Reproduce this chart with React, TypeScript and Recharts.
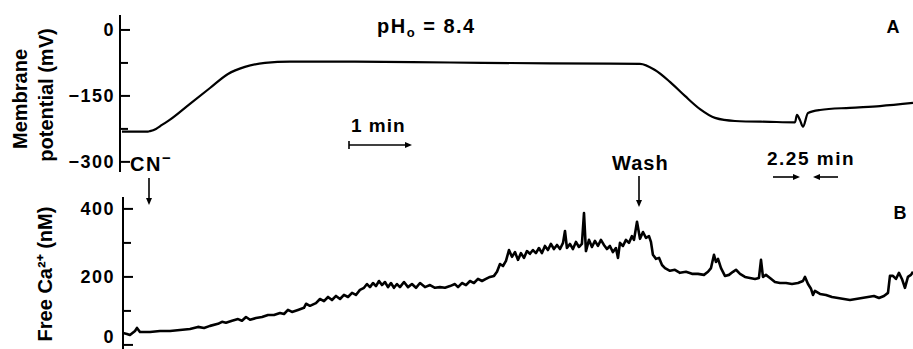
import React from "react";
import { Line, LineChart, XAxis, YAxis } from "recharts";

// time axis in seconds as plotted (2.25 min break near the end is not removed)
const membraneTime = [0, 25.2, 27.1, 32.9, 38.7, 46.5, 65.8, 85.2, 102.6, 119.0, 138.4, 162.6, 220.6, 317.4, 414.2, 501.3, 515.8, 530.3, 544.8, 559.4, 573.9, 593.2, 627.1, 651.3, 653.2, 656.1, 659.0, 663.9, 675.5, 704.5, 733.5, 765.5];
const membraneMv = [-231, -231, -230, -225, -216, -204, -168, -132, -100, -84, -75, -72, -72, -74, -76, -77, -91, -118, -150, -180, -200, -207, -209, -210, -193, -205, -220, -189, -182, -177, -173, -166];

const calciumTime = [
  1.0, 4.8, 7.7, 12.6, 14.5, 17.4, 27.1, 36.8, 46.5, 56.1, 65.8, 73.5, 79.4, 85.2, 92.9, 96.8, 100.6, 106.5, 112.3, 116.1,
  120.0, 123.9, 129.7, 135.5, 141.3, 147.1, 152.9, 156.8, 160.6, 164.5, 170.3, 176.1, 178.1, 181.9, 187.7, 191.6, 195.5, 199.4, 203.2, 207.1,
  211.0, 214.8, 218.7, 222.6, 226.4, 230.3, 234.2, 237.1, 240.0, 242.9, 245.8, 248.7, 251.6, 254.5, 257.4, 260.3, 263.2, 266.1, 269.0, 272.9,
  276.8, 280.6, 284.5, 288.4, 293.2, 298.1, 302.9, 307.7, 312.6, 317.4, 322.2, 325.2, 329.0, 332.9, 336.8, 340.6, 344.5, 348.4, 352.2, 356.1,
  360.0, 362.9, 365.8, 368.7, 371.6, 374.5, 377.4, 380.3, 383.2, 386.1, 389.0, 391.9, 394.8, 397.7, 400.6, 403.5, 406.4, 409.3, 412.2, 415.1,
  418.0, 421.0, 423.9, 426.8, 428.7, 430.6, 433.5, 436.4, 439.3, 442.2, 445.1, 447.1, 449.0, 451.9, 454.8, 457.7, 460.6, 463.5, 466.4, 469.3,
  472.2, 475.1, 478.0, 480.0, 481.9, 484.8, 487.7, 490.6, 493.5, 495.5, 498.4, 501.3, 504.2, 507.1, 510.0, 511.9, 513.8, 516.8, 519.7, 522.6,
  525.5, 530.3, 535.1, 540.0, 545.8, 551.6, 557.4, 563.2, 567.1, 570.0, 572.9, 574.8, 576.8, 579.7, 583.5, 587.4, 591.3, 594.2, 598.1, 602.9,
  607.7, 612.6, 616.4, 618.4, 620.3, 623.2, 627.1, 631.9, 636.8, 642.6, 648.4, 654.2, 659.0, 661.0, 663.9, 666.8, 668.7, 670.6, 675.5, 681.3,
  687.1, 692.9, 698.7, 704.5, 710.3, 716.1, 721.9, 727.7, 732.6, 737.4, 741.3, 743.2, 746.1, 749.0, 751.9, 754.8, 757.7, 760.6, 763.5, 765.5,
];
const calciumNm = [
  35, 32, 29, 41, 50, 38, 38, 41, 41, 44, 47, 53, 50, 56, 62, 68, 65, 71, 76, 71,
  82, 74, 79, 82, 88, 88, 94, 91, 103, 97, 103, 109, 121, 115, 123, 135, 129, 141, 132, 144,
  135, 147, 141, 153, 147, 162, 168, 179, 170, 182, 173, 188, 176, 185, 170, 182, 168, 179, 170, 185,
  170, 179, 168, 182, 170, 176, 168, 170, 168, 173, 179, 170, 182, 176, 188, 182, 194, 188, 194, 200,
  203, 215, 238, 232, 247, 279, 259, 273, 250, 270, 256, 276, 268, 279, 270, 285, 270, 291, 279, 297,
  282, 294, 282, 300, 335, 285, 297, 282, 303, 288, 297, 388, 276, 309, 288, 306, 291, 309, 294, 282,
  291, 273, 285, 256, 300, 291, 309, 300, 320, 309, 362, 312, 332, 315, 320, 303, 265, 253, 256, 235,
  226, 218, 221, 212, 215, 209, 209, 206, 215, 226, 265, 244, 253, 226, 203, 206, 215, 221, 209, 200,
  197, 194, 197, 250, 200, 206, 197, 185, 182, 182, 179, 182, 188, 200, 179, 165, 147, 159, 150, 147,
  141, 138, 135, 132, 135, 138, 141, 144, 138, 144, 153, 203, 203, 194, 212, 194, 168, 200, 206, 215,
];

const mvTicks = [0, -75, -150, -225, -300];
const mvLabels = [0, -150, -300];
const nmTicks = [400, 300, 200, 100, 0];
const nmLabels = [400, 200, 0];

const membraneData = membraneTime.map((t, i) => ({ t, mv: membraneMv[i] }));
const calciumData = calciumTime.map((t, i) => ({ t, nm: calciumNm[i] }));

const FONT = "'Liberation Sans', Arial, sans-serif";

function makeTick(axisX: number, labels: number[], maxY: number) {
  return (props: any) => {
    const { y, payload } = props;
    const v = payload.value as number;
    const major = labels.includes(v);
    const txt = v < 0 ? "\u2212" + Math.abs(v) : String(v);
    // keep the label inside the picture where the tick sits on the lower edge
    const ty = Math.min(y + 6.5, maxY);
    return (
      <g>
        <line x1={axisX} x2={axisX + (major ? 10 : 8)} y1={y} y2={y} stroke="#000" strokeWidth={2} />
        {major && (
          <text x={115} y={ty} textAnchor="end" fontFamily={FONT} fontWeight="bold" fontSize={18} letterSpacing={1.5} fill="#000">
            {txt}
          </text>
        )}
      </g>
    );
  };
}

function Arrow({ x1, y1, x2, y2 }: { x1: number; y1: number; x2: number; y2: number }) {
  const a = Math.atan2(y2 - y1, x2 - x1);
  const l = 7;
  const w = 3;
  const bx = x2 - l * Math.cos(a);
  const by = y2 - l * Math.sin(a);
  const px = -Math.sin(a) * w;
  const py = Math.cos(a) * w;
  return (
    <g>
      <line x1={x1} y1={y1} x2={bx} y2={by} stroke="#000" strokeWidth={1.6} />
      <polygon points={`${x2},${y2} ${bx + px},${by + py} ${bx - px},${by - py}`} fill="#000" />
    </g>
  );
}

export default function App() {
  const txt = { fontFamily: FONT, fontWeight: "bold" as const, fill: "#000" };
  return (
    <div style={{ position: "relative", width: 913, height: 349, overflow: "hidden", background: "#fff" }}>
      <style>{`body{margin:0}`}</style>
      <div style={{ position: "absolute", left: 0, top: 0 }}>
        <LineChart width={913} height={175} data={membraneData} margin={{ top: 15, right: 0, bottom: 3, left: 0 }}>
          <XAxis type="number" dataKey="t" domain={[-1.9, 765.5]} hide allowDataOverflow />
          <YAxis
            type="number"
            width={120}
            domain={[-323, 34]}
            allowDataOverflow
            ticks={mvTicks}
            interval={0}
            tickLine={false}
            axisLine={{ stroke: "#000", strokeWidth: 2 }}
            tick={makeTick(120, mvLabels, 175)}
          />
          <Line type="monotone" dataKey="mv" stroke="#000" strokeWidth={2.2} dot={false} isAnimationActive={false} />
        </LineChart>
      </div>
      <div style={{ position: "absolute", left: 0, top: 190 }}>
        <LineChart width={913} height={159} data={calciumData} margin={{ top: 7, right: 0, bottom: 0, left: 0 }}>
          <XAxis type="number" dataKey="t" domain={[0.97, 765.5]} hide allowDataOverflow />
          <YAxis
            type="number"
            width={123}
            domain={[-12, 435]}
            allowDataOverflow
            ticks={nmTicks}
            interval={0}
            tickLine={false}
            axisLine={{ stroke: "#000", strokeWidth: 2 }}
            tick={makeTick(123, nmLabels, 153)}
          />
          <Line type="linear" dataKey="nm" stroke="#000" strokeWidth={2.6} strokeLinejoin="round" dot={false} isAnimationActive={false} />
        </LineChart>
      </div>
      <svg width={913} height={349} style={{ position: "absolute", left: 0, top: 0, pointerEvents: "none" }}>
        <text {...txt} fontSize={20} transform="translate(20,99) rotate(-90)" textAnchor="middle" dy={7}>Membrane</text>
        <text {...txt} fontSize={20} transform="translate(46,95) rotate(-90)" textAnchor="middle" dy={7}>potential (mV)</text>
        <text {...txt} fontSize={20} transform="translate(45,274) rotate(-90)" textAnchor="middle" dy={7}>Free Ca²⁺ (nM)</text>

        <text {...txt} fontSize={20} x={377} y={33} letterSpacing={1.5}>
          pH<tspan fontSize={13} dy={4}>o</tspan>
          <tspan dy={-4}> = 8.4</tspan>
        </text>
        <text {...txt} fontSize={18} x={893} y={33} textAnchor="middle">A</text>
        <text {...txt} fontSize={18} x={900} y={219} textAnchor="middle">B</text>

        <text {...txt} fontSize={19} x={351} y={132} letterSpacing={1}>1 min</text>
        <line x1={349} y1={141} x2={349} y2={149} stroke="#000" strokeWidth={1.6} />
        <Arrow x1={349} y1={145} x2={412} y2={145} />

        <text {...txt} fontSize={20} x={130} y={171} letterSpacing={1.5}>CN<tspan fontSize={15} dy={-8}>−</tspan></text>
        <Arrow x1={149} y1={178} x2={149} y2={205} />

        <text {...txt} fontSize={20} x={612} y={170} letterSpacing={1}>Wash</text>
        <Arrow x1={639} y1={176} x2={639} y2={207} />

        <text {...txt} fontSize={19} x={767} y={165} letterSpacing={1.5}>2.25 min</text>
        <Arrow x1={773} y1={177} x2={800} y2={177} />
        <Arrow x1={838} y1={177} x2={813} y2={177} />
      </svg>
    </div>
  );
}
